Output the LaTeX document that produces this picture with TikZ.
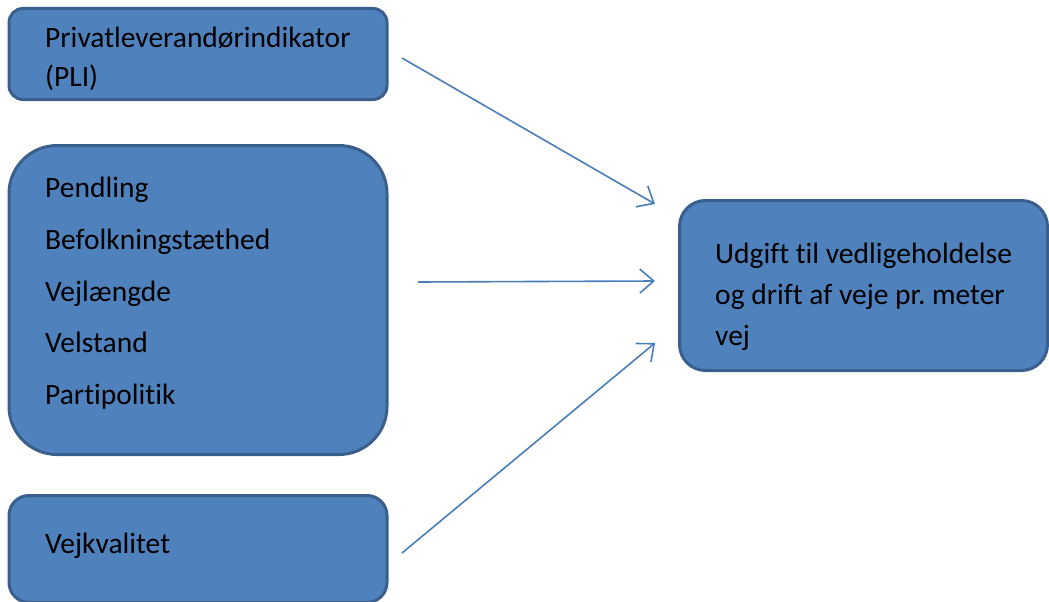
\documentclass[tikz,border=0pt]{standalone}
\usepackage{fontspec}
\setmainfont[Ligatures={NoCommon}]{Carlito}
\frenchspacing
\usetikzlibrary{arrows.meta}
\definecolor{boxfill}{HTML}{4F81BD}
\definecolor{boxline}{HTML}{3A5F8C}
\definecolor{arrowcol}{HTML}{4A7EBB}
\tikzset{
  box/.style={draw=boxline, fill=boxfill, line width=3pt, inner sep=0pt, outer sep=0pt},
  lbl/.style={anchor=base west, inner sep=0pt, font=\fontsize{29.5}{35}\selectfont, text=black},
  conn/.style={draw=arrowcol, line width=1.6pt, -{Straight Barb[length=14pt, width=24pt, line width=1.6pt]}}
}
\begin{document}
\begin{tikzpicture}[x=1pt, y=-1pt]
\useasboundingbox (0,0) rectangle (1049,602);
% boxes
\node[box, rounded corners=14pt, minimum width=378pt, minimum height=91pt] (b1) at (198,54) {};
\node[box, rounded corners=48pt, minimum width=378pt, minimum height=309pt] (b2) at (198,300) {};
\node[box, rounded corners=20pt, minimum width=378pt, minimum height=107pt] (b3) at (198,549) {};
\node[box, rounded corners=26pt, minimum width=368pt, minimum height=170pt] (b4) at (863.5,285.5) {};
% labels
\node[lbl] (t1a) at (45,48) {Privatleverandørindikator};
\node[lbl] (t1b) at (45,86) {(PLI)};
\node[lbl] (t2a) at (45,197) {Pendling};
\node[lbl] (t2b) at (45,249) {Befolkningstæthed};
\node[lbl] (t2c) at (45,301) {Vejlængde};
\node[lbl] (t2d) at (45,352) {Velstand};
\node[lbl] (t2e) at (45,404) {Partipolitik};
\node[lbl] (t3) at (45,553) {Vejkvalitet};
\node[lbl] (t4a) at (715,263) {Udgift til vedligeholdelse};
\node[lbl] (t4b) at (715,304) {og drift af veje pr. meter};
\node[lbl] (t4c) at (715,345) {vej};
% connector ends
\coordinate (s1) at (402,58);
\coordinate (e1) at (655,204);
\coordinate (s2) at (418,282);
\coordinate (e2) at (655,281);
\coordinate (s3) at (402,553);
\coordinate (e3) at (655,343);
\draw[conn] (s1) -- (e1);
\draw[conn] (s2) -- (e2);
\draw[conn] (s3) -- (e3);
\end{tikzpicture}
\end{document}
